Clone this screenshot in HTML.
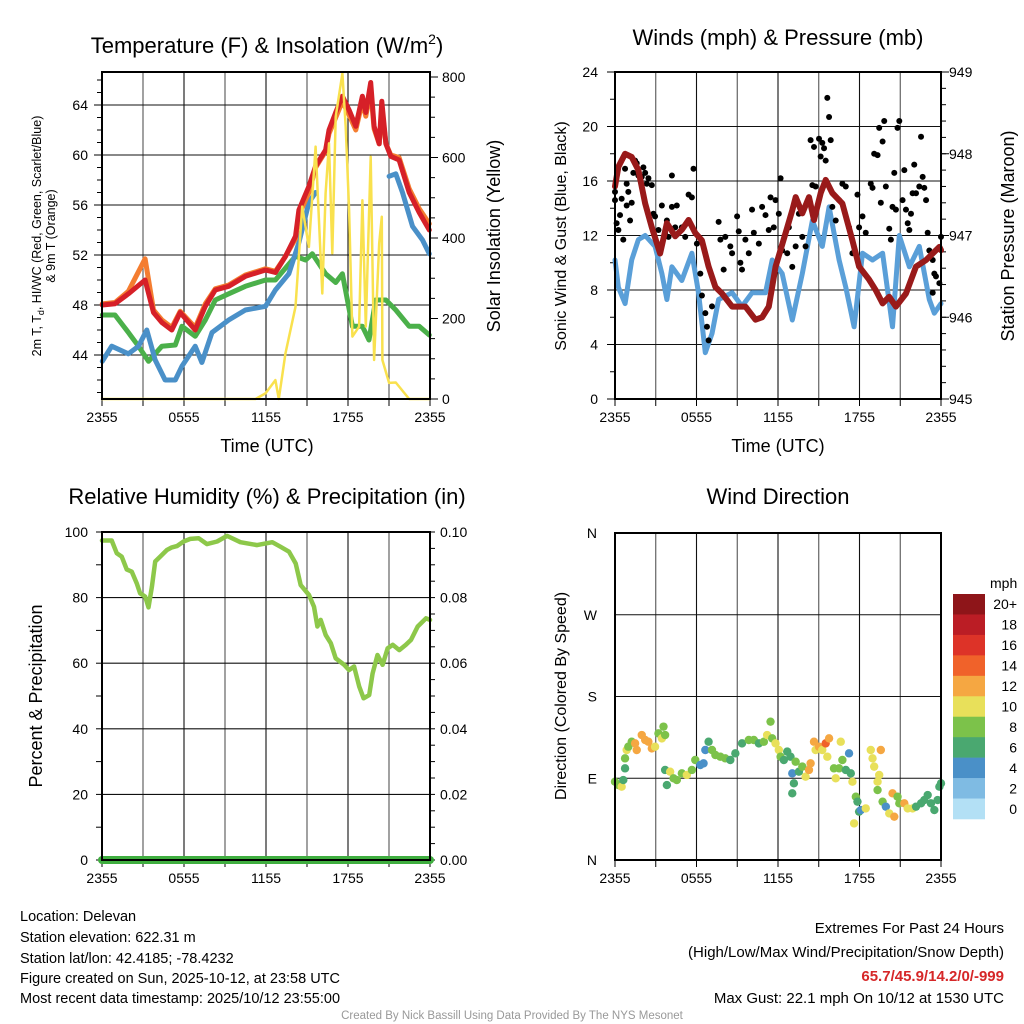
<!DOCTYPE html>
<html><head><meta charset="utf-8"><style>
html,body{margin:0;padding:0;background:#fff}
svg{display:block}
text{font-family:"Liberation Sans",Arial,sans-serif;fill:#000}
</style></head><body>
<svg id="root" width="1024" height="1024" viewBox="0 0 1024 1024" xmlns="http://www.w3.org/2000/svg">
<rect width="1024" height="1024" fill="#fff"/>
<g id="g1"></g>
<g id="g2"></g>
<g id="g3"></g>
<g id="g4"></g>

<text x="267" y="53" font-size="22" text-anchor="middle">Temperature (F) &amp; Insolation (W/m<tspan dy="-9" font-size="14">2</tspan><tspan dy="9">)</tspan></text>
<text x="778" y="45" font-size="22" text-anchor="middle">Winds (mph) &amp; Pressure (mb)</text>
<text x="267" y="504" font-size="22" text-anchor="middle">Relative Humidity (%) &amp; Precipitation (in)</text>
<text x="778" y="504" font-size="22" text-anchor="middle">Wind Direction</text>

<text transform="translate(41,236) rotate(-90)" font-size="12.5" text-anchor="middle">2m T, T<tspan font-size="9" dy="3">d</tspan><tspan dy="-3">, HI/WC (Red, Green, Scarlet/Blue)</tspan></text>
<text transform="translate(55,236) rotate(-90)" font-size="12.5" text-anchor="middle">&amp; 9m T (Orange)</text>
<text transform="translate(500,236) rotate(-90)" font-size="18" text-anchor="middle">Solar Insolation (Yellow)</text>
<text transform="translate(566,236) rotate(-90)" font-size="16" text-anchor="middle">Sonic Wind &amp; Gust (Blue, Black)</text>
<text transform="translate(1014,236) rotate(-90)" font-size="18" text-anchor="middle">Station Pressure (Maroon)</text>
<text transform="translate(42,696) rotate(-90)" font-size="18" text-anchor="middle">Percent &amp; Precipitation</text>
<text transform="translate(566,696) rotate(-90)" font-size="16" text-anchor="middle">Direction (Colored By Speed)</text>
<text x="267" y="458" font-size="18" text-anchor="middle" transform="translate(0,-6)">Time (UTC)</text>
<text x="778" y="458" font-size="18" text-anchor="middle" transform="translate(0,-6)">Time (UTC)</text>

<g font-size="14.5">
<text x="20" y="921">Location: Delevan</text>
<text x="20" y="942">Station elevation: 622.31 m</text>
<text x="20" y="963">Station lat/lon: 42.4185; -78.4232</text>
<text x="20" y="983">Figure created on Sun, 2025-10-12, at 23:58 UTC</text>
<text x="20" y="1003">Most recent data timestamp: 2025/10/12 23:55:00</text>
</g>
<g font-size="15" text-anchor="end">
<text x="1004" y="933">Extremes For Past 24 Hours</text>
<text x="1004" y="957">(High/Low/Max Wind/Precipitation/Snow Depth)</text>
<text x="1004" y="981" font-weight="bold" style="fill:#d62728">65.7/45.9/14.2/0/-999</text>
<text x="1004" y="1003">Max Gust: 22.1 mph On 10/12 at 1530 UTC</text>
</g>
<text x="512" y="1019" font-size="11.5" text-anchor="middle" style="fill:#999">Created By Nick Bassill Using Data Provided By The NYS Mesonet</text>
</svg>
<script>
// ---------- data ----------
const xTickHours=[0,6,12,18,24];
const xTickLabels=["2355","0555","1155","1755","2355"];
const tempTicks=[44,48,52,56,60,64];
const solarTicks=[0,200,400,600,800];
const windTicks=[0,4,8,12,16,20,24];
const presTicks=[945,946,947,948,949];
const rhTicks=[0,20,40,60,80,100];
const precipTicks=["0.00","0.02","0.04","0.06","0.08","0.10"];
const dirTickDeg=[0,90,180,270,360];
const dirTickLabels=["N","E","S","W","N"];

const redHours=[0.02,0.95,1.93,3.15,3.77,4.38,5.11,5.72,6.82,7.56,8.29,9.27,10.49,11.96,12.69,13.43,14.16,14.41,15.14,15.63,16.36,16.61,17.1,17.59,18.08,18.57,19.05,19.3,19.66,19.91,20.28,20.47,20.77,21.13,21.74,22.48,23.21,23.95];
const redTemp=[48.0,48.1,48.9,50.0,47.4,46.6,46.0,47.4,46.0,47.9,49.2,49.5,50.3,50.8,50.6,51.9,53.5,55.6,57.5,59.1,60.4,62.0,63.4,64.7,63.6,62.3,64.7,63.4,65.8,62.3,60.9,64.3,60.9,59.9,59.6,57.0,55.4,54.0];
const orangeTemp=[48.1,48.2,49.1,51.7,47.6,46.8,46.2,47.5,46.2,48.1,49.3,49.6,50.4,50.9,50.7,51.9,53.3,55.2,57.0,59.0,60.3,61.7,63.0,64.3,63.2,62.0,64.3,63.1,65.2,62.1,60.9,63.8,60.9,60.0,59.8,57.3,55.7,54.5];
const greenHours=[0.02,0.95,1.93,2.67,3.4,4.38,5.36,5.85,6.82,7.56,8.29,9.27,10.49,11.96,12.69,14.16,14.9,15.39,16.36,17.1,17.59,18.32,19.05,19.54,20.03,20.77,21.5,22.48,23.21,23.95];
const greenTemp=[47.2,47.2,45.8,44.7,43.5,44.7,44.8,46.3,45.5,46.8,48.4,48.9,49.5,50.0,50.0,51.9,51.6,52.1,50.5,49.8,50.5,46.3,46.3,45.2,48.4,48.4,47.6,46.3,46.3,45.6];
const blueHours=[0.02,0.71,1.93,2.67,3.28,3.89,4.62,5.36,5.85,6.82,7.31,8.05,9.27,10.49,11.96,12.69,13.67,14.41,15.14,15.63,null,21.01,21.5,21.99,22.72,23.45,23.95];
const blueTemp=[43.5,44.7,44.1,44.7,46.0,43.6,42.0,42.0,43.1,44.7,43.4,45.8,46.8,47.6,47.9,49.2,50.5,53.0,56.2,57.0,null,58.3,58.5,57.0,54.3,53.2,52.1];
const solarHours=[0,11.23,11.96,12.69,12.94,13.43,14.16,14.65,15.14,15.63,16.12,16.36,16.61,16.85,17.1,17.59,17.83,18.08,18.32,18.81,19.05,19.3,19.66,19.91,20.28,20.47,20.52,21.01,21.5,22.48,23.95];
const solarWm2=[0,0,14,47,0,114,229,478,378,627,262,511,635,362,701,809,676,470,155,180,494,180,602,97,387,453,97,40,41,0,0];

const windHours=[0,0.25,0.74,1.23,1.72,2.22,2.95,3.45,3.82,4.19,4.92,5.66,6.15,6.65,7.14,7.63,8.62,9.35,10.09,11.08,11.57,12.31,13.05,13.79,14.53,15.26,15.76,16.5,16.99,17.6,18.22,18.96,19.7,20.43,20.93,21.67,22.4,23.14,23.51,24];
const windMph=[10.2,8.2,7.0,10.2,11.7,12.0,11.2,9.2,7.3,9.7,8.7,10.7,7.8,3.4,4.8,7.3,7.8,6.8,7.8,7.8,10.2,9.2,5.8,9.2,13.1,11.2,14.1,10.2,8.2,5.3,10.7,10.2,10.7,5.3,12.0,9.7,11.2,7.3,6.3,7.0];
const presHours=[0,0.25,0.74,1.23,1.72,2.22,2.71,3.32,3.82,4.43,4.92,5.42,5.91,6.4,6.89,7.39,7.88,8.62,9.6,10.34,10.83,11.32,11.82,12.56,13.05,13.3,13.79,14.28,14.65,15.14,15.51,16.0,16.74,17.48,17.97,18.71,19.2,19.7,20.19,20.68,21.42,22.16,22.9,23.88,24];
const presMb=[947.60,947.84,948.0,947.96,947.80,947.39,947.10,946.78,947.15,946.99,947.07,947.19,947.03,946.94,946.62,946.37,946.29,946.13,946.13,945.97,946.0,946.13,946.62,947.03,947.31,947.47,947.27,947.47,947.19,947.52,947.68,947.52,947.39,946.94,946.62,946.46,946.33,946.17,946.25,946.13,946.29,946.62,946.70,946.86,946.82];
const gustHours=[0,0,0.12,0.25,0.37,0.49,0.61,0.74,0.86,0.98,0.86,1.11,1.23,1.35,1.48,1.6,1.72,1.97,2.09,2.22,2.34,2.46,2.71,2.83,2.95,3.2,3.45,3.69,3.82,3.94,4.19,4.19,4.43,4.55,4.92,5.17,5.42,5.66,5.78,6.03,6.28,6.4,6.65,6.77,6.89,7.14,7.63,7.76,8.0,8.12,8.49,8.62,8.99,9.11,9.23,9.35,9.6,9.85,10.09,10.22,10.59,10.83,11.08,11.32,11.45,11.69,11.82,12.06,12.19,12.31,12.68,12.8,13.05,13.3,13.54,13.79,14.03,14.4,14.53,14.65,14.77,15.02,15.14,15.26,15.39,15.51,15.63,15.76,15.88,16.0,16.25,16.5,16.74,16.99,17.23,17.48,17.85,17.97,18.22,18.46,18.83,18.96,19.08,19.33,19.45,19.57,19.7,19.82,19.94,20.19,20.31,20.43,20.56,20.68,20.8,20.93,21.17,21.3,21.42,21.55,21.67,21.79,21.91,22.03,22.16,22.4,22.53,22.65,22.77,22.9,23.02,23.14,23.39,23.51,23.63,23.88,24.0,23.39];
const gustMph=[15.2,14.6,12.9,12.4,13.5,14.7,11.7,16.9,15.8,15.2,14.2,13.1,14.4,16.6,17.5,17.3,16.4,16.3,17.0,16.6,15.8,16.2,15.7,13.6,13.4,12.4,14.2,12.2,13.1,11.9,16.4,14.1,12.6,14.2,12.6,11.9,15.0,14.8,16.9,11.4,9.2,7.6,6.3,5.3,4.3,6.8,13.0,11.7,9.5,11.9,11.2,10.7,13.4,12.3,10.0,9.5,11.7,10.7,13.9,12.2,11.4,14.1,13.5,12.4,14.8,12.6,14.6,13.6,16.2,10.9,10.7,12.6,9.7,11.2,13.6,11.9,11.2,19.0,15.7,18.5,15.6,19.1,17.8,18.8,18.4,17.5,22.1,20.7,19.0,14.1,13.1,14.6,15.8,15.6,12.6,10.7,15.0,12.6,13.4,12.2,15.8,15.5,18.0,17.9,19.9,14.4,18.9,20.4,15.6,12.5,11.7,14.1,16.6,13.9,19.9,20.4,14.6,16.8,13.9,12.9,12.4,13.6,15.1,17.2,15.1,15.6,19.25,16.3,15.5,14.6,12.2,10.9,10.2,9.2,9.0,8.5,11.9,7.8];

const rhHours=[0,0.71,1.08,1.44,1.81,2.18,2.54,2.79,3.16,3.4,3.65,3.89,4.26,4.75,5.11,5.48,5.97,6.46,7.07,7.68,8.42,9.15,10.13,11.35,12.46,13.07,13.68,14.17,14.54,15.15,15.51,15.76,16.0,16.37,16.74,17.1,17.72,18.08,18.45,18.82,19.14,19.55,19.8,20.16,20.53,20.9,21.27,21.75,22.24,22.61,23.1,23.71,24];
const rhPct=[97.4,97.4,93.5,92.5,88.6,87.9,84.4,81.3,80.3,77.0,83.3,91.0,92.5,94.5,95.3,95.7,97.1,97.9,98.1,96.3,97.1,98.8,96.9,96.0,96.9,95.5,94.0,90.4,83.8,80.8,77.2,71.2,73.2,68.6,66.1,61.5,59.5,57.9,59.0,52.9,49.3,50.3,56.9,62.5,59.5,64.5,65.6,64.0,65.6,67.1,71.2,73.7,73.2];
const precipHours=[0,24];
const precipIn=[0,0];

const dirHours=[-0.12,0.25,0.49,0.61,0.74,0.74,0.86,0.98,1.23,1.48,1.6,1.97,2.22,2.46,2.71,2.95,3.2,3.45,3.57,3.69,3.69,3.82,4.06,4.31,4.55,4.92,5.29,5.66,5.91,6.28,6.52,6.65,6.89,7.14,7.39,7.76,8.12,8.49,8.86,9.35,9.85,10.22,10.59,10.96,11.2,11.45,11.57,11.82,12.06,12.19,12.43,12.68,12.92,13.05,13.17,13.05,13.3,13.54,13.79,14.03,14.28,14.4,14.65,14.77,15.02,15.26,15.51,15.76,15.63,16.12,16.25,16.5,16.62,16.74,16.99,17.23,17.36,17.48,17.73,17.85,17.97,18.1,18.46,17.6,18.83,18.96,19.08,19.33,19.33,19.57,19.45,19.7,19.94,20.19,20.56,20.43,20.8,20.93,21.3,21.55,21.91,22.16,22.53,22.77,23.02,23.26,23.51,23.75,23.88,24.13];
const dirDeg=[86.2,82.5,80.7,88.0,100.9,111.9,121.1,124.7,130.2,128.4,121.1,137.6,132.1,130.2,122.9,124.7,139.4,133.9,146.8,137.6,99.1,82.5,97.2,89.9,88.0,95.4,93.6,99.1,110.1,104.6,106.4,121.1,130.2,121.1,115.6,113.7,111.9,110.1,117.4,128.4,132.1,132.1,128.4,130.2,137.6,152.3,133.9,128.4,121.1,113.7,110.1,119.3,113.7,95.4,84.4,73.4,108.2,97.2,102.8,91.7,99.1,106.4,130.2,121.1,124.7,121.1,128.4,133.9,113.7,100.9,89.9,100.9,130.2,110.1,99.1,117.4,95.4,86.2,69.7,64.2,53.2,55.0,56.8,40.3,121.1,111.9,102.8,86.2,77.0,121.1,93.6,64.2,58.7,51.3,47.7,73.4,69.7,62.4,62.4,56.8,56.8,58.7,62.4,66.0,71.5,62.4,55.0,66.0,80.7,84.4];
const dirSpeed=[9,8,10,7,7,9,10,9,8,12,12,12,12,12,12,10,8,10,8,8,7,7,10,8,8,8,10,8,8,5,5,5,7,8,8,8,8,7,7,7,8,8,7,8,10,8,8,10,10,8,7,7,7,5,7,7,8,7,8,10,12,13,13,10,12,10,15,12,10,8,10,8,10,8,7,5,7,10,8,7,7,5,10,10,10,10,10,10,8,13,10,8,5,10,13,13,8,8,13,10,10,7,7,7,7,7,7,7,7,7];

const cbLabels=["20+","18","16","14","12","10","8","6","4","2","0"];
const cbColors=["#8e1519","#bb1d25","#dd3328","#f0622a","#f5a742","#e8e05a","#7cc24a","#4aa870","#4a90c8","#7fbbe3","#b3e0f5"];

// ---------- helpers ----------
const NS="http://www.w3.org/2000/svg";
function mk(parent,tag,attrs){const e=document.createElementNS(NS,tag);for(const k in attrs)e.setAttribute(k,attrs[k]);parent.appendChild(e);return e;}
function clamp(v,a,b){return Math.max(a,Math.min(b,v));}

function makeX(L,R){return h=>L+clamp(h,0,24)/24*(R-L);}
function linY(v0,v1,B,T){return v=>B-(v-v0)/(v1-v0)*(B-T);}

function frame(g,L,R,T,B,hLines,name){
  for(let k=1;k<8;k++){const x=L+k*(R-L)/8;
    const e=mk(g,'line',{x1:x,y1:T,x2:x,y2:B,stroke:k%2?'#555':'#111','stroke-width':1.1});
    }
  hLines.forEach(y=>{const e=mk(g,'line',{x1:L,y1:y,x2:R,y2:y,stroke:'#111','stroke-width':1.1});
    });
  for(let k=0;k<=8;k++){const x=L+k*(R-L)/8;
    const e=mk(g,'line',{x1:x,y1:B,x2:x,y2:B+7,stroke:'#000','stroke-width':1});
    }
}
function box(g,L,R,T,B,name){
  const e=mk(g,'rect',{x:L,y:T,width:R-L,height:B-T,fill:'none',stroke:'#000','stroke-width':2});
  
}
function xLabels(g,X,B,name){
  xTickHours.forEach((h,i)=>{const t=mk(g,'text',{x:X(h),y:B+23,'font-size':14,'text-anchor':'middle'});t.textContent=xTickLabels[i];
    });
}
function yLabels(g,vals,labels,Y,x,anchor,name){
  vals.forEach((v,i)=>{const t=mk(g,'text',{x:x,y:Y(v)+5,'font-size':14,'text-anchor':anchor});t.textContent=labels[i];
    });
}
function minor(g,v0,v1,step,Y,x,dir,len,name){
  for(let v=v0;v<=v1+1e-9;v+=step){const y=Y(v);
    const e=mk(g,'line',{x1:x,y1:y,x2:x+dir*len,y2:y,stroke:'#000','stroke-width':1});
    }
}
function pathD(hs,vs,X,Y){let d='',pen=false;
  for(let i=0;i<hs.length;i++){if(hs[i]===null||vs[i]===null){pen=false;continue;}
    d+=(pen?'L':'M')+X(hs[i]).toFixed(1)+','+Y(vs[i]).toFixed(1);pen=true;}
  return d;}
function line(g,hs,vs,X,Y,color,w,name){
  const e=mk(g,'path',{d:pathD(hs,vs,X,Y),fill:'none',stroke:color,'stroke-width':w,'stroke-linejoin':'round','stroke-linecap':'round'});
  return e;}

// ---------- panel 1 ----------
(function(){
  const g=document.getElementById('g1');const L=102,R=430,T=72,B=399;
  const X=makeX(L,R);const YT=linY(44,64,355,105);const YS=linY(0,800,399,77);
  frame(g,L,R,T,B,tempTicks.map(YT),'temp');
  minor(g,41,66,1,YT,L,-1,5,'temp-minor');minor(g,44,64,4,YT,L,-1,8,'temp-major');
  minor(g,0,800,50,YS,R,1,5,'solar-minor');minor(g,0,800,200,YS,R,1,8,'solar-major');
  yLabels(g,tempTicks,tempTicks.map(String),YT,L-14,'end','temp-y');
  yLabels(g,solarTicks,solarTicks.map(String),YS,R+12,'start','solar-y');
  xLabels(g,X,B,'temp');
  line(g,greenHours,greenTemp,X,YT,'#4bb04a',5,'dewpoint-line');
  line(g,blueHours,blueTemp,X,YT,'#4a90c8',5,'heat-index-windchill-line');
  line(g,redHours,orangeTemp,X,YT,'#f47d30',5,'temp-9m-line');
  line(g,redHours,redTemp,X,YT,'#d62028',5,'temp-2m-line');
  line(g,solarHours,solarWm2,X,YS,'#f9e14e',2.5,'insolation-line');
  box(g,L,R,T,B,'temp');
})();

// ---------- panel 2 ----------
(function(){
  const g=document.getElementById('g2');const L=615,R=941,T=72,B=399;
  const X=makeX(L,R);const YW=linY(0,24,399,72);const YP=linY(945,949,399,72);
  frame(g,L,R,T,B,windTicks.slice(1,-1).map(YW),'wind');
  minor(g,0,24,2,YW,L,-1,5,'wind-minor');minor(g,0,24,4,YW,L,-1,8,'wind-major');
  minor(g,945,949,0.2,YP,R,1,5,'pres-minor');minor(g,945,949,1,YP,R,1,8,'pres-major');
  yLabels(g,windTicks,windTicks.map(String),YW,L-17,'end','wind-y');
  yLabels(g,presTicks,presTicks.map(String),YP,R+8,'start','pres-y');
  xLabels(g,X,B,'wind');
  line(g,windHours,windMph,X,YW,'#5a9fd8',5,'sonic-wind-line');
  gustHours.forEach((h,i)=>{const c=mk(g,'circle',{cx:X(h),cy:YW(gustMph[i]),r:3,fill:'#000'});
    
    });
  line(g,presHours,presMb,X,YP,'#991a1a',6,'pressure-line');
  box(g,L,R,T,B,'wind');
})();

// ---------- panel 3 ----------
(function(){
  const g=document.getElementById('g3');const L=102,R=430,T=532,B=860;
  const X=makeX(L,R);const YR=linY(0,100,860,532);const YPr=linY(0,0.1,860,532);
  frame(g,L,R,T,B,rhTicks.slice(1).map(YR),'rh');
  minor(g,0,100,10,YR,L,-1,6,'rh-minor');minor(g,0,0.1,0.005,YPr,R,1,5,'precip-minor');
  yLabels(g,rhTicks,rhTicks.map(String),YR,L-14,'end','rh-y');
  yLabels(g,precipTicks.map(Number),precipTicks,YPr,R+10,'start','precip-y');
  xLabels(g,X,B,'rh');
  line(g,rhHours,rhPct,X,YR,'#8dc84a',4.5,'humidity-line');
  line(g,precipHours,precipIn,X,YPr,'#3fae3f',8,'precipitation-line');
  box(g,L,R,T,B,'rh');
})();

// ---------- panel 4 ----------
(function(){
  const g=document.getElementById('g4');const L=615,R=941,T=533,B=860;
  const X=makeX(L,R);const YD=linY(0,360,860,533);
  frame(g,L,R,T,B,dirTickDeg.map(YD),'dir');
  yLabels(g,dirTickDeg,dirTickLabels,YD,L-18,'end','dir-y');
  xLabels(g,X,B,'dir');
  function col(s){const i=clamp(Math.floor(s/2),0,10);return cbColors[10-i];}
  dirHours.forEach((h,i)=>{const c=mk(g,'circle',{cx:X(h),cy:YD(dirDeg[i]),r:4.2,fill:col(dirSpeed[i]||7)});
    
    });
  box(g,L,R,T,B,'dir');
  const cb=mk(g,'g',{});
  
  
  const t=mk(cb,'text',{x:990,y:588,'font-size':14});t.textContent='mph';
  
  
  const h=(819-594)/11;
  cbColors.forEach((c,i)=>{const r=mk(cb,'rect',{x:953,y:594+i*h,width:32,height:h+0.3,fill:c});
    
    
    const l=mk(cb,'text',{x:1017,y:594+i*h+h/2+5,'font-size':14,'text-anchor':'end'});l.textContent=cbLabels[i];
    
    });
})();
</script>
</body></html>
